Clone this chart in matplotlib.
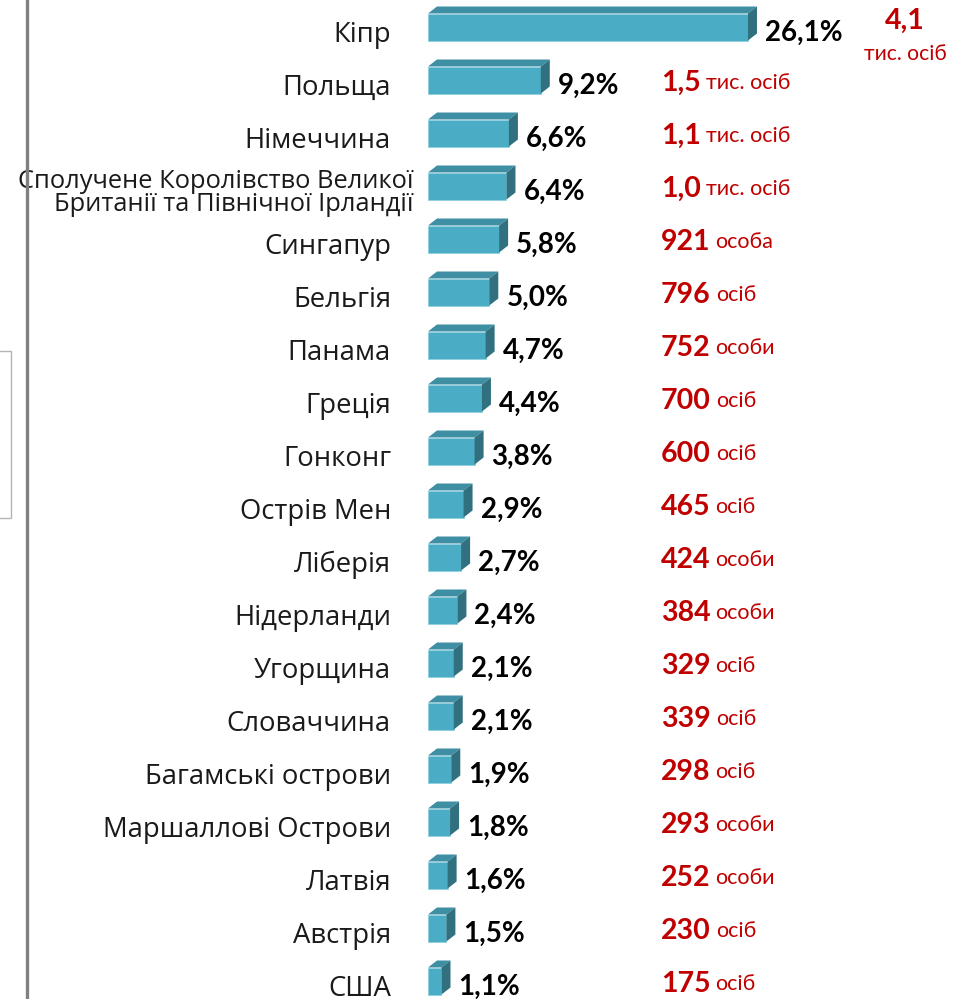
import matplotlib
matplotlib.use("Agg")
import matplotlib.pyplot as plt
from matplotlib.patches import Polygon, Rectangle
from matplotlib.lines import Line2D

# Data
countries = [
    "Кіпр", "Польща", "Німеччина",
    "Сполучене Королівство Великої\nБританії та Північної Ірландії",
    "Сингапур", "Бельгія", "Панама", "Греція", "Гонконг", "Острів Мен",
    "Ліберія", "Нідерланди", "Угорщина", "Словаччина", "Багамські острови",
    "Маршаллові Острови", "Латвія", "Австрія", "США",
]
shares = [26.1, 9.2, 6.6, 6.4, 5.8, 5.0, 4.7, 4.4, 3.8, 2.9, 2.7, 2.4, 2.1, 2.1,
          1.9, 1.8, 1.6, 1.5, 1.1]
persons = ["4,1", "1,5", "1,1", "1,0", "921", "796", "752", "700", "600", "465",
           "424", "384", "329", "339", "298", "293", "252", "230", "175"]
units = ["тис. осіб", "тис. осіб", "тис. осіб", "тис. осіб", "особа", "осіб",
         "особи", "осіб", "осіб", "осіб", "особи", "особи", "осіб", "осіб",
         "осіб", "особи", "особи", "осіб", "осіб"]

FRONT = "#4bacc6"
TOP = "#3e8ea4"
SIDE = "#31717f"
RED = "#c00000"
FONT = ["Lato", "Open Sans", "DejaVu Sans"]
LABEL_FONT = ["Open Sans", "DejaVu Sans"]

W, H, DPI = 959, 999, 100
fig = plt.figure(figsize=(W / DPI, H / DPI), dpi=DPI)
ax = fig.add_axes([0, 0, 1, 1])

# pixel geometry -> data scale
x0_px, px_per_pct = 428, 12.26
row0_px, row_px = 27, 53.0
ax.set_xlim(-x0_px / px_per_pct, (W - x0_px) / px_per_pct)
ax.set_ylim((H - row0_px) / row_px, -row0_px / row_px)
ax.axis("off")

bar_h = 27 / row_px
dx = 9 / px_per_pct
dy = 7 / row_px

rows = range(len(countries))
ax.barh(list(rows), shares, height=bar_h, color=FRONT, edgecolor="#8fd0e0",
        linewidth=0.6, zorder=3)

red_x = (661 - x0_px) / px_per_pct
fig.canvas.draw()
renderer = fig.canvas.get_renderer()

for i, (name, v, num, unit) in enumerate(zip(countries, shares, persons, units)):
    top_y = i - bar_h / 2
    bot_y = i + bar_h / 2
    ax.add_patch(Polygon([(0, top_y), (v, top_y), (v + dx, top_y - dy), (dx, top_y - dy)],
                         closed=True, facecolor=TOP, edgecolor="none", zorder=3))
    ax.add_patch(Polygon([(v, top_y), (v + dx, top_y - dy), (v + dx, bot_y - dy), (v, bot_y)],
                         closed=True, facecolor=SIDE, edgecolor="none", zorder=3))

    # category label (the long two-line one is set smaller and overflows right)
    if "\n" in name:
        ax.annotate(name, xy=(0, i), xytext=(-15, -7), textcoords="offset pixels",
                    ha="right", va="center", ma="right", fontsize=18.4, family=LABEL_FONT,
                    color="#1a1a1a", linespacing=0.88, annotation_clip=False)
    else:
        ax.annotate(name, xy=(0, i), xytext=(-37, -8), textcoords="offset pixels",
                    ha="right", va="center", fontsize=19.8, family=LABEL_FONT,
                    color="#1a1a1a", annotation_clip=False)

    # share label
    ax.annotate(f"{v:.1f}%".replace(".", ","), xy=(v + dx, i), xytext=(8, -6),
                textcoords="offset pixels", ha="left", va="center",
                fontsize=20, fontweight="bold", family=FONT, color="black")

    if i == 0:
        cx = (905 - x0_px) / px_per_pct
        ax.annotate(num, xy=(cx, i), xytext=(0, 6), textcoords="offset pixels",
                    ha="center", va="center", fontsize=20.5, fontweight="bold",
                    family=FONT, color=RED)
        ax.annotate(unit, xy=(cx, i), xytext=(0, -27), textcoords="offset pixels",
                    ha="center", va="center", fontsize=15.2, family=FONT, color=RED)
        continue

    t = ax.annotate(num, xy=(red_x, i), xytext=(0, -3), textcoords="offset pixels",
                    ha="left", va="center", fontsize=20.5, fontweight="bold",
                    family=FONT, color=RED)
    bb = t.get_window_extent(renderer)
    ax.annotate(unit, xy=(red_x, i), xytext=(bb.width + 5, -3), textcoords="offset pixels",
                ha="left", va="center", fontsize=15.5, family=FONT, color=RED)

# left frame pieces
fig.add_artist(Line2D([26.5 / W, 26.5 / W], [0, 1], color="#808080", linewidth=2.4,
                      transform=fig.transFigure))
fig.add_artist(Rectangle((-2 / W, (H - 518) / H), 13 / W, 167 / H, fill=False,
                         edgecolor="#b4b4b4", linewidth=1, transform=fig.transFigure))

fig.savefig("out.png", dpi=DPI, facecolor="white")
